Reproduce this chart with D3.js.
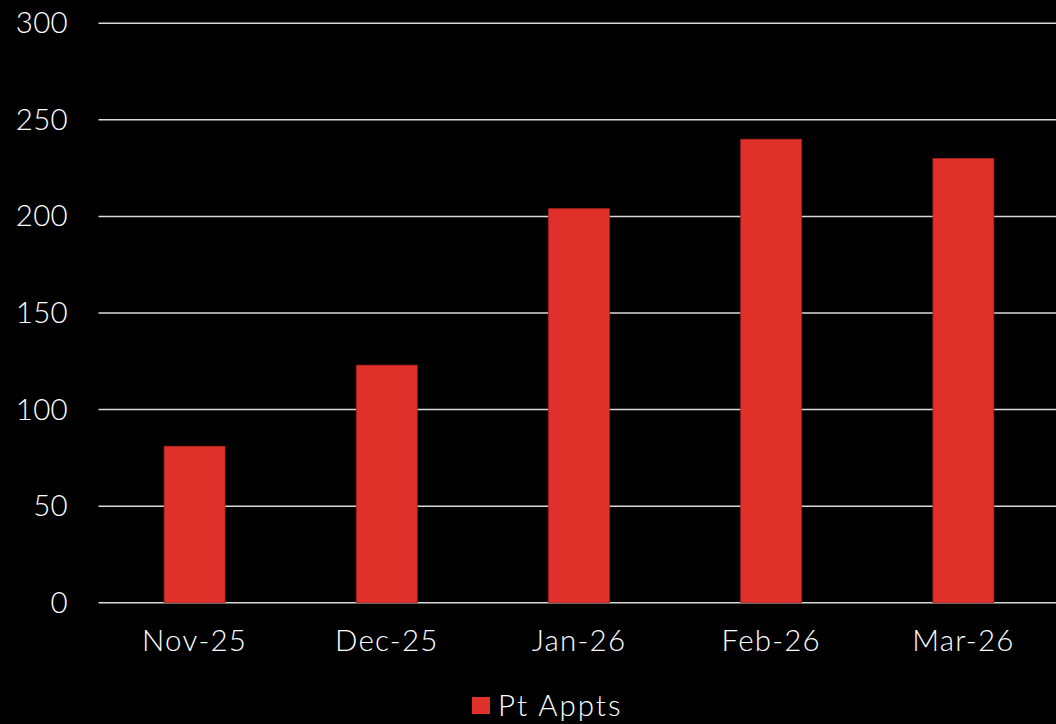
<!DOCTYPE html>
<html><head><meta charset="utf-8">
<script src="https://cdn.jsdelivr.net/npm/d3@7"></script>
<style>html,body{margin:0;padding:0;background:#000;}svg{display:block;}</style>
</head><body>
<script>
const categories = ["Nov-25","Dec-25","Jan-26","Feb-26","Mar-26"];
const values = [81, 123, 204, 240, 230];
const yTicks = [0,50,100,150,200,250,300];
const seriesName = "Pt Appts";

(function(){
const W = 1056, H = 724;
const font = "Lato, 'Noto Sans', sans-serif";
const fs = "29.5px";
const svg = d3.select("body").append("svg").attr("width", W).attr("height", H)
  .style("background","#000");

const pLeft = 98.5, pRight = 1059.5, pTop = 23.3, pBottom = 602.7;
const x = d3.scaleBand().domain(categories).range([pLeft, pRight]).paddingInner(0.683).paddingOuter(0.3415);
const y = d3.scaleLinear().domain([0,300]).range([pBottom, pTop]);

svg.append("g").selectAll("line").data(yTicks).join("line")
  .attr("x1", pLeft).attr("x2", W)
  .attr("y1", d => y(d)).attr("y2", d => y(d))
  .attr("stroke", "#d9d9d9").attr("stroke-width", 1.5);

function styleText(sel, ls){
  sel.attr("fill","#fff").style("font-family",font).style("font-size",fs)
     .style("font-weight","300").style("letter-spacing",ls);
}

const yAxis = d3.axisLeft(y).tickValues(yTicks).tickSize(0).tickPadding(0);
const gy = svg.append("g").attr("transform", `translate(68,0)`).call(yAxis);
gy.select(".domain").remove();
styleText(gy.selectAll("text"), "0.3px");

svg.append("g").selectAll("rect").data(values).join("rect")
  .attr("x", (d,i) => x(categories[i]))
  .attr("width", x.bandwidth())
  .attr("y", d => y(d))
  .attr("height", d => y(0) - y(d))
  .attr("fill", "#e0302a").attr("stroke","#a8231f").attr("stroke-width",0.8);

const xAxis = d3.axisBottom(x).tickSize(0).tickPadding(0);
const gx = svg.append("g").attr("transform", `translate(0,${pBottom + 27})`).call(xAxis);
gx.select(".domain").remove();
styleText(gx.selectAll("text"), "1.2px");

const lg = svg.append("g");
lg.append("rect").attr("x", 472).attr("y", 697).attr("width", 18).attr("height", 17).attr("fill", "#e0302a");
styleText(lg.append("text").attr("x", 498).attr("y", 716).text(seriesName), "2px");
})();
</script>
</body></html>
